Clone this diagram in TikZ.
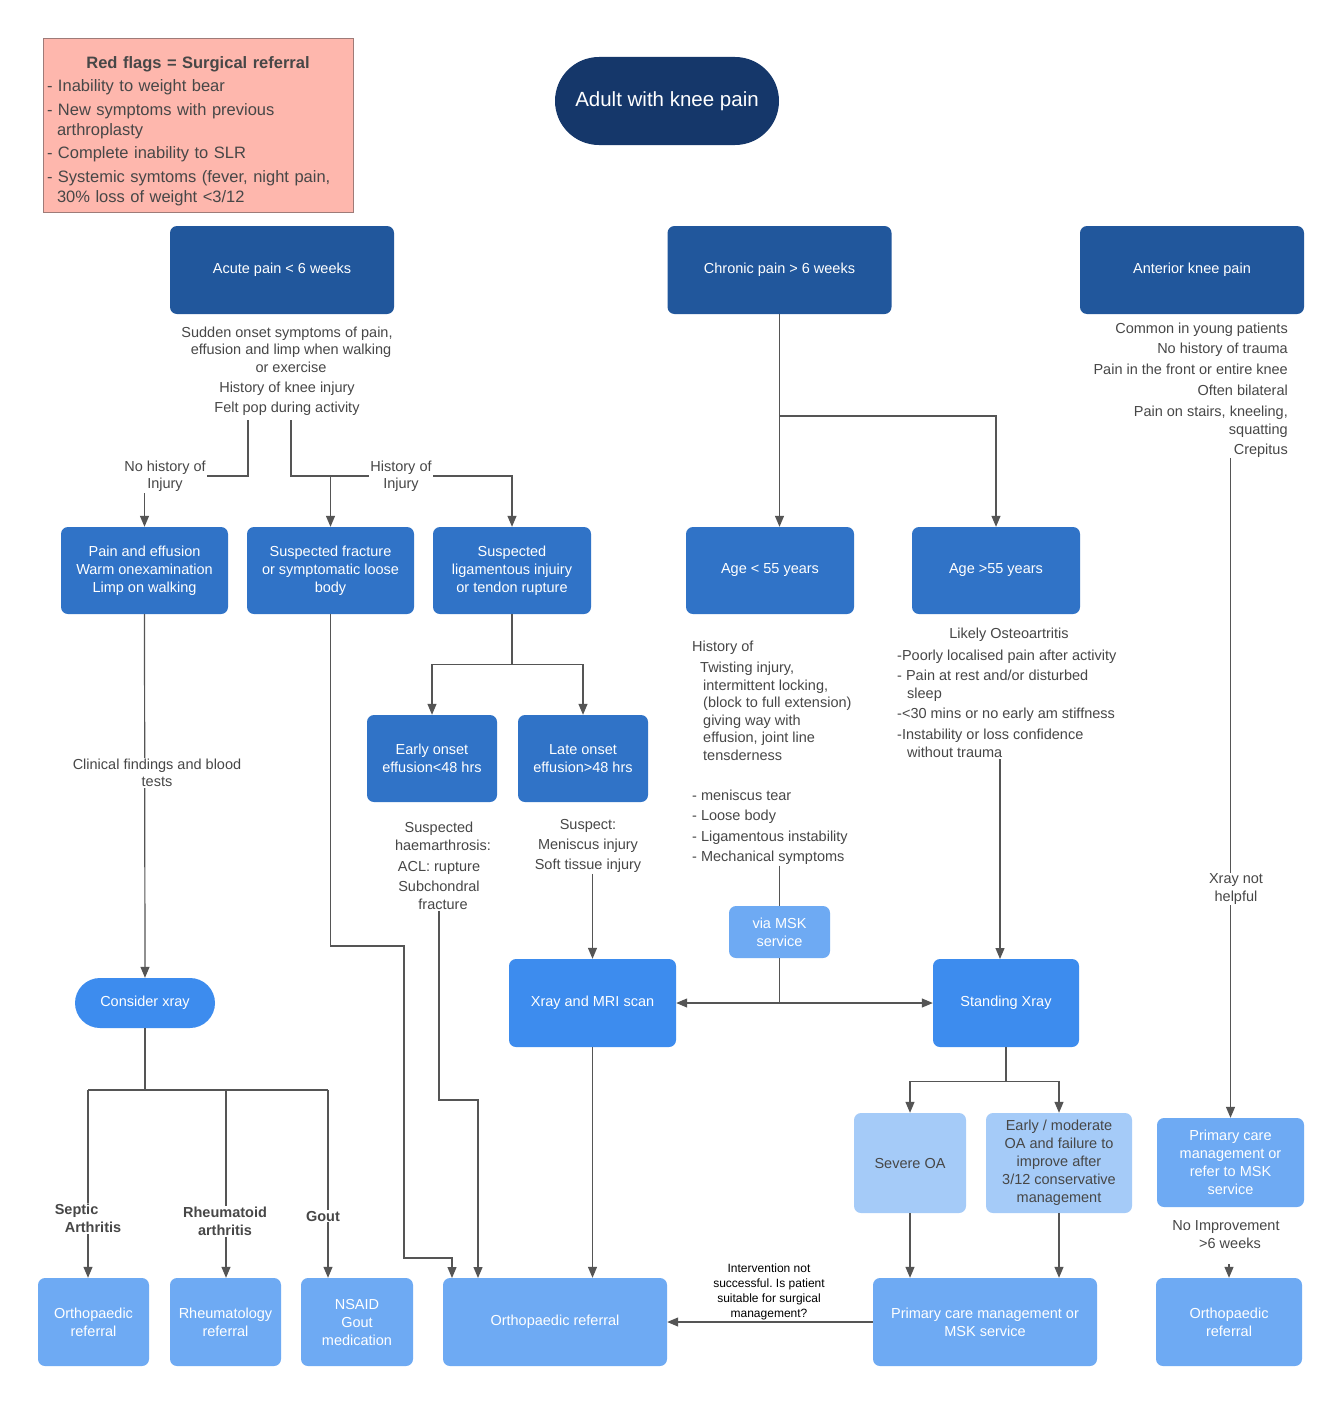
\documentclass[tikz,border=0pt]{standalone}
\usepackage{fontspec}
\setmainfont{Liberation Sans}
\usetikzlibrary{arrows.meta}
\frenchspacing
\definecolor{navy}{HTML}{15376A}
\definecolor{dblue}{HTML}{21579C}
\definecolor{mblue}{HTML}{3073C7}
\definecolor{bblue}{HTML}{3D8CEE}
\definecolor{lblue}{HTML}{6EAAF3}
\definecolor{pblue}{HTML}{A5CBF8}
\definecolor{pinkfill}{HTML}{FEB7AD}
\definecolor{pinkdraw}{HTML}{9E7B78}
\definecolor{lnc}{HTML}{555555}
\definecolor{txt}{HTML}{474747}
\begin{document}
\begin{tikzpicture}[x=1pt,y=-1pt,
  box/.style={rectangle, rounded corners=7pt, inner sep=2pt, align=center, text=white, font=\fontsize{14.5}{18}\selectfont},
  lvlone/.style={box, fill=dblue, minimum width=224pt, minimum height=88pt},
  mb/.style={box, fill=mblue, minimum height=87pt},
  bb/.style={box, fill=bblue},
  lb/.style={box, fill=lblue},
  pb/.style={box, fill=pblue, text=txt},
  note/.style={align=center, text=txt, font=\fontsize{14.5}{17.5}\selectfont, inner sep=1pt},
  lbl/.style={note, fill=white},
  blbl/.style={lbl, font=\bfseries\fontsize{14.5}{17.5}\selectfont},
  conn/.style={draw=lnc, line width=1.2pt},
  arr/.style={conn, -{Triangle[length=11pt,width=9pt]}}]
\path[fill=white] (0,0) rectangle (1343,1405);
\useasboundingbox (0,0) rectangle (1343,1405);

% red flags
\node[draw=pinkdraw, fill=pinkfill, line width=0.8pt, minimum width=310pt, minimum height=174pt,
      text width=302pt, inner xsep=4pt, align=left, text=txt,
      font=\fontsize{16.5}{20}\selectfont] (redflags) at (198,125)
 {\rule{0pt}{24pt}\makebox[302pt][c]{\bfseries Red flags = Surgical referral}\\[3.5pt]
  - Inability to weight bear\\[3.5pt]
  - New symptoms with previous\\
  \hspace*{10pt}arthroplasty\\[3.5pt]
  - Complete inability to SLR\\[3.5pt]
  - Systemic symtoms (fever, night pain,\\
  \hspace*{10pt}30\% loss of weight <3/12};

% start
\node[box, fill=navy, rounded corners=44pt, minimum width=224pt, minimum height=88pt,
      font=\fontsize{20.5}{24}\selectfont] (start) at (667,101) {Adult with knee pain};

% level one
\node[lvlone] (acute) at (282,270) {Acute pain < 6 weeks};
\node[lvlone] (chronic) at (779.5,270) {Chronic pain > 6 weeks};
\node[lvlone] (anterior) at (1192,270) {Anterior knee pain};

% annotations under level one
\node[note] (acutetxt) at (287,371) {Sudden onset symptoms of pain,\\ \hspace*{8pt}effusion and limp when walking\\ \hspace*{8pt}or exercise\\[3pt] History of knee injury\\[2.5pt] Felt pop during activity};
\node[note, align=right, anchor=east, font=\fontsize{14.5}{18}\selectfont] (antxt) at (1289,390)
 {Common in young patients\\[2.5pt] No history of trauma\\[3pt] Pain in the front or entire knee\\[2.5pt] Often bilateral\\[3pt] Pain on stairs, kneeling,\\ squatting\\[2pt] Crepitus};

% acute branches
\coordinate (aone) at (248,420);
\coordinate (atwo) at (291,420);
\coordinate (hj) at (291,476);

\node[mb, minimum width=167pt] (pe) at (144.5,570.5) {Pain and effusion\\ Warm onexamination\\ Limp on walking};
\node[mb, minimum width=167pt] (sf) at (330.5,570.5) {Suspected fracture\\ or symptomatic loose\\ body};
\node[mb, minimum width=158pt] (sl) at (512,570.5) {Suspected\\ ligamentous injuiry\\ or tendon rupture};
\node[mb, minimum width=168pt] (alow) at (770,570.5) {Age < 55 years};
\node[mb, minimum width=168pt] (ahigh) at (996,570.5) {Age >55 years};

\draw[arr] (aone) -- ++(0,56) -| (pe.north);
\draw[arr] (atwo) -- ++(0,56) -| (sl.north);
\draw[arr] (hj -| sf.north) -- (sf.north);
\node[lbl] (nohist) at (165,476) {No history of\\ Injury};
\node[lbl] (hist) at (401,476) {History of\\ Injury};

% chronic branches
\coordinate (cj) at (779.5,416);
\draw[arr] (chronic.south) -- (chronic.south |- alow.north);
\draw[arr] (cj) -| (ahigh.north);

% ligamentous
\node[mb, minimum width=130pt] (early) at (432,758.5) {Early onset\\ effusion<48 hrs};
\node[mb, minimum width=130pt] (late) at (583,758.5) {Late onset\\ effusion>48 hrs};
\draw[conn] (sl.south) -- ++(0,50) coordinate (lj);
\draw[arr] (lj) -| (early.north);
\draw[arr] (lj) -| (late.north);

\node[note, font=\fontsize{14.5}{18}\selectfont] (hae) at (439,866) {Suspected\\ \hspace*{8pt}haemarthrosis:\\[3pt] ACL: rupture\\[2pt] Subchondral\\ \hspace*{8pt}fracture};
\node[note, font=\fontsize{14.5}{20}\selectfont] (sus) at (588,846) {Suspect:\\ Meniscus injury\\ Soft tissue injury};

% age < 55 text
\node[note, align=left, anchor=west] (histof) at (691,701)
 {History of\\[3.5pt]
  \hspace*{8pt}Twisting injury,\\
  \hspace*{11pt}intermittent locking,\\
  \hspace*{11pt}(block to full extension)\\
  \hspace*{11pt}giving way with\\
  \hspace*{11pt}effusion, joint line\\
  \hspace*{11pt}tensderness};
\node[note, align=left, anchor=west, font=\fontsize{14.5}{20.5}\selectfont] (mech) at (691,827)
 {- meniscus tear\\ - Loose body\\ - Ligamentous instability\\ - Mechanical symptoms};

% age > 55 text
\node[note] (oatitle) at (1009,635) {Likely Osteoartritis};
\node[note, align=left, anchor=west, font=\fontsize{14.5}{18}\selectfont] (oatxt) at (896,704)
 {-Poorly localised pain after activity\\[2pt]
  - Pain at rest and/or disturbed\\
  \hspace*{10pt}sleep\\[2pt]
  -<30 mins or no early am stiffness\\[3pt]
  -Instability or loss confidence\\
  \hspace*{10pt}without trauma};

% middle row
\node[bb, minimum width=167pt, minimum height=88pt] (xmri) at (592.5,1003) {Xray and MRI scan};
\node[lb, minimum width=101pt, minimum height=52pt] (msk) at (779.5,932) {via MSK\\ service};
\node[bb, minimum width=146pt, minimum height=88pt] (sx) at (1006,1003) {Standing Xray};
\node[bb, rounded corners=25pt, minimum width=140pt, minimum height=50pt] (cx) at (145,1003) {Consider xray};

\coordinate (sxin) at (1000,959);
\draw[arr] (sus.south -| xmri.north) -- (xmri.north);
\draw[conn] (mech.south -| msk.north) -- (msk.north);
\draw[conn] (msk.south) -- (msk.south |- xmri.east);
\draw[arr] (msk.south |- xmri.east) -- (xmri.east);
\draw[arr] (msk.south |- sx.west) -- (sx.west);
\draw[arr] (oatxt.south -| sxin) -- (sxin);

% pain & effusion to consider xray
\draw[arr] (pe.south) -- (cx.north);
\node[lbl] (clin) at (157,773) {Clinical findings and blood\\ tests};

% OA split
\node[pb, minimum width=112pt, minimum height=100pt] (severe) at (910,1163) {Severe OA};
\node[pb, minimum width=146pt, minimum height=100pt] (earlymod) at (1059,1163) {Early / moderate\\ OA and failure to\\ improve after\\ 3/12 conservative\\ management};
\draw[conn] (sx.south) -- ++(0,34) coordinate (sj);
\draw[arr] (sj) -| (severe.north);
\draw[arr] (sj) -| (earlymod.north);

% right column
\node[lb, minimum width=147pt, minimum height=89pt] (pcr) at (1230.5,1162.5) {Primary care\\ management or\\ refer to MSK\\ service};
\draw[arr] (antxt.south -| pcr.north) -- (pcr.north);
\node[lbl] (xnh) at (1236,889) {Xray not\\ helpful};
\node[note] (noimp) at (1226,1234.5) {No Improvement\\ \hspace*{8pt}>6 weeks};

% bottom row
\node[lb, minimum width=111pt, minimum height=88pt] (orthoa) at (93.5,1322) {Orthopaedic\\ referral};
\node[lb, minimum width=111pt, minimum height=88pt] (rheum) at (225.5,1322) {Rheumatology\\ referral};
\node[lb, minimum width=112pt, minimum height=88pt] (nsaid) at (357,1322) {NSAID\\ Gout\\ medication};
\node[lb, minimum width=224pt, minimum height=88pt] (orthoc) at (555,1322) {Orthopaedic referral};
\node[lb, minimum width=224pt, minimum height=88pt] (pcm) at (985,1322) {Primary care management or\\ MSK service};
\node[lb, minimum width=146pt, minimum height=88pt] (orthor) at (1229,1322) {Orthopaedic\\ referral};

% consider xray branches
\coordinate (ja) at (88,1090);
\coordinate (jb) at (226,1090);
\coordinate (jc) at (328,1090);
\draw[conn] (cx.south) -- (cx.south |- ja);
\draw[conn] (ja) -- (jc);
\draw[arr] (ja) -- (ja |- orthoa.north);
\draw[arr] (jb) -- (jb |- rheum.north);
\draw[arr] (jc) -- (jc |- nsaid.north);
\node[blbl, align=left] (septic) at (88,1218.5) {Septic\\ \hspace*{10pt}Arthritis};
\node[blbl] (ra) at (225,1221.5) {Rheumatoid\\ arthritis};
\node[blbl] (gout) at (323,1216) {Gout};

% into central orthopaedic referral
\coordinate (oone) at (452,1278);
\coordinate (otwo) at (478,1278);
\draw[arr] (sf.south) |- (404,946) |- (452,1258) -- (oone);
\draw[arr] (hae.south) |- (478,1100) -- (otwo);
\draw[arr] (xmri.south) -- (xmri.south |- orthoc.north);

% OA to primary care
\draw[arr] (severe.south) -- (severe.south |- pcm.north);
\draw[arr] (earlymod.south) -- (earlymod.south |- pcm.north);
\draw[arr] (pcm.west) -- (orthoc.east);
\node[align=center, text=black, font=\fontsize{12}{15}\selectfont, inner sep=1pt] (interv) at (769,1291.5)
 {Intervention not\\ successful. Is patient\\ suitable for surgical\\ management?};

% no improvement arrow
\coordinate (ni) at (1229,1264);
\draw[arr] (ni) -- (orthor.north);
\end{tikzpicture}
\end{document}
